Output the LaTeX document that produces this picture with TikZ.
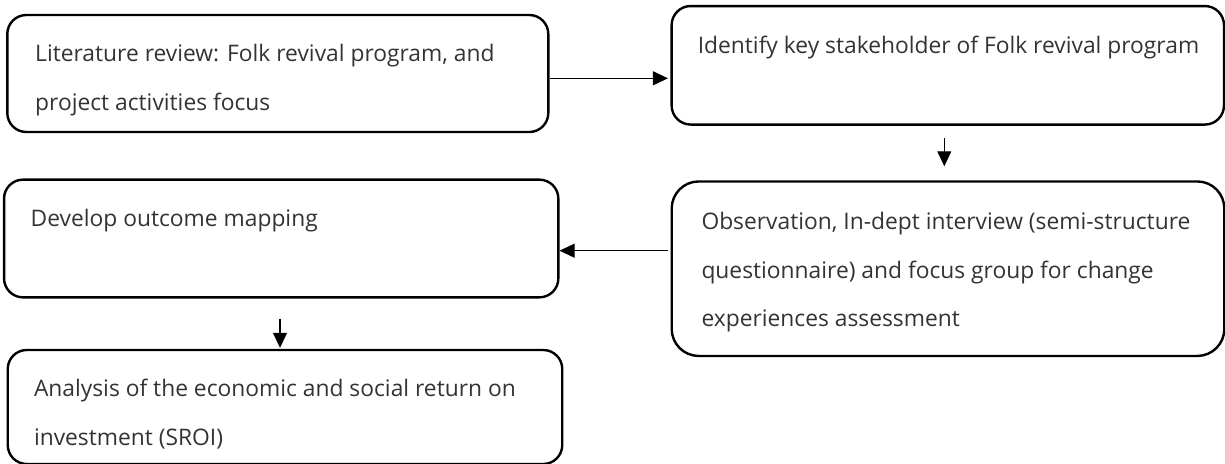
\documentclass[tikz,border=0pt]{standalone}
\usepackage{fontspec}
\setmainfont{Open Sans}
\usetikzlibrary{arrows.meta}
\begin{document}
\begin{tikzpicture}[x=1pt,y=-1pt,
  box/.style={draw=black, line width=2.4pt, rounded corners=19pt, inner sep=0pt},
  txt/.style={anchor=base west, align=left, inner sep=0pt, font=\fontsize{22.8}{48.5}\selectfont, text=black!80},
  arr/.style={line width=1.1pt, -{Triangle[length=15pt,width=14pt]}}]
\useasboundingbox (0,0) rectangle (1225,463);
% boxes
\node[box, minimum width=541pt, minimum height=117pt] (b1) at (277.8,73.5) {};
\node[box, minimum width=552.3pt, minimum height=118.5pt] (b2) at (947.8,65.3) {};
\node[box, rounded corners=27pt, minimum width=552.6pt, minimum height=174.5pt] (b3) at (948,268.7) {};
\node[box, minimum width=554.3pt, minimum height=117.7pt] (b4) at (281.2,238.5) {};
\node[box, minimum width=554.5pt, minimum height=114pt] (b5) at (285,407) {};
% texts (base anchor = baseline of the last line)
\node[txt] (t1) at (35,110) {Literature review: Folk revival program, and\\project activities focus};
\node[txt] (t2) at (697.6,53.5) {Identify key stakeholder of Folk revival program};
\node[txt] (t3) at (701.3,326.5) {Observation, In-dept interview (semi-structure\\questionnaire) and focus group for change\\experiences assessment};
\node[txt] (t4) at (30.5,226.5) {Develop outcome mapping};
\node[txt] (t5) at (33.8,445) {Analysis of the economic and social return on\\investment (SROI)};
% connectors
\coordinate (y1) at (0,78.3);
\coordinate (y3) at (0,250.7);
\coordinate (x2) at (944.3,0);
\coordinate (x4) at (280,0);
\draw[arr, shorten >=2.5pt] (b1.east |- y1) -- (b2.west |- y1);
\draw[arr, shorten <=12pt, shorten >=14pt] (b2.south -| x2) -- (b3.north -| x2);
\draw[arr, shorten <=2.5pt] (b3.west |- y3) -- (b4.east |- y3);
\draw[arr, shorten <=20pt, shorten >=1pt] (b4.south -| x4) -- (b5.north -| x4);
\end{tikzpicture}
\end{document}
